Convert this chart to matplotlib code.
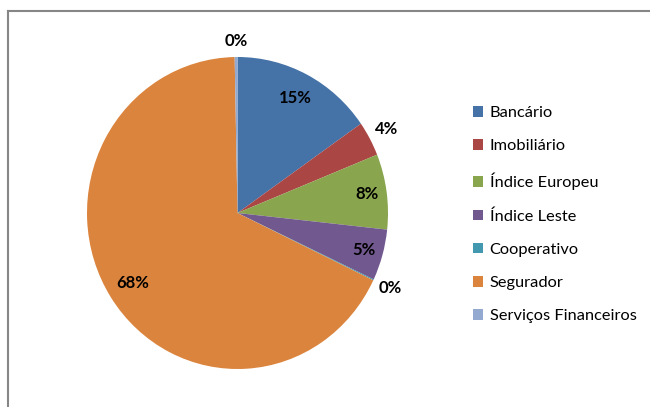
import numpy as np
import matplotlib
matplotlib.use("Agg")
import matplotlib.pyplot as plt
from matplotlib.patches import Patch
from matplotlib.lines import Line2D

sectors = ["Bancário", "Imobiliário", "Índice Europeu", "Índice Leste",
           "Cooperativo", "Segurador", "Serviços Financeiros"]
shares = [15.3, 3.6, 7.8, 5.3, 0.1, 67.6, 0.3]
pct_labels = ["15%", "4%", "8%", "5%", "0%", "68%", "0%"]

colors = ["#4572A7", "#AA4643", "#89A54E", "#71588F", "#4198AF", "#DB843D", "#93A9CF"]
label_dist = [0.83, 1.13, 0.87, 0.87, 1.12, 0.83, 1.10]

plt.rcParams["font.family"] = ["Lato", "DejaVu Sans"]

fig = plt.figure(figsize=(6.5, 4.07), dpi=100)
ax = fig.add_axes([87 / 650, 38 / 407, 301 / 650, 312 / 407])
wedges, _ = ax.pie(shares, colors=colors, startangle=90, counterclock=False,
                   radius=1.0, wedgeprops=dict(linewidth=0))
ax.set_aspect("auto")
ax.set_xlim(-1, 1)
ax.set_ylim(-1, 1)
ax.axis("off")

for w, txt, d in zip(wedges, pct_labels, label_dist):
    ang = np.deg2rad((w.theta1 + w.theta2) / 2)
    ax.text(d * np.cos(ang), d * np.sin(ang), txt, ha="center", va="center",
            fontsize=12, fontweight="bold", color="black")

handles = [Patch(facecolor=c, edgecolor="none") for c in colors]
fig.legend(handles, sectors, loc="upper left", bbox_to_anchor=(473 / 650, 1 - 106 / 407),
           frameon=False, fontsize=11.8, handlelength=0.62, handleheight=0.62,
           handletextpad=0.4, labelspacing=1.17, borderaxespad=0, borderpad=0)

# chart area border (top and left visible)
fig.add_artist(Line2D([7.5 / 650, 1], [1 - 10.5 / 407, 1 - 10.5 / 407],
                      transform=fig.transFigure, color="#868686", lw=1.5))
fig.add_artist(Line2D([7.5 / 650, 7.5 / 650], [0, 1 - 10.5 / 407],
                      transform=fig.transFigure, color="#868686", lw=1.5))

fig.savefig("out.png", dpi=100)
